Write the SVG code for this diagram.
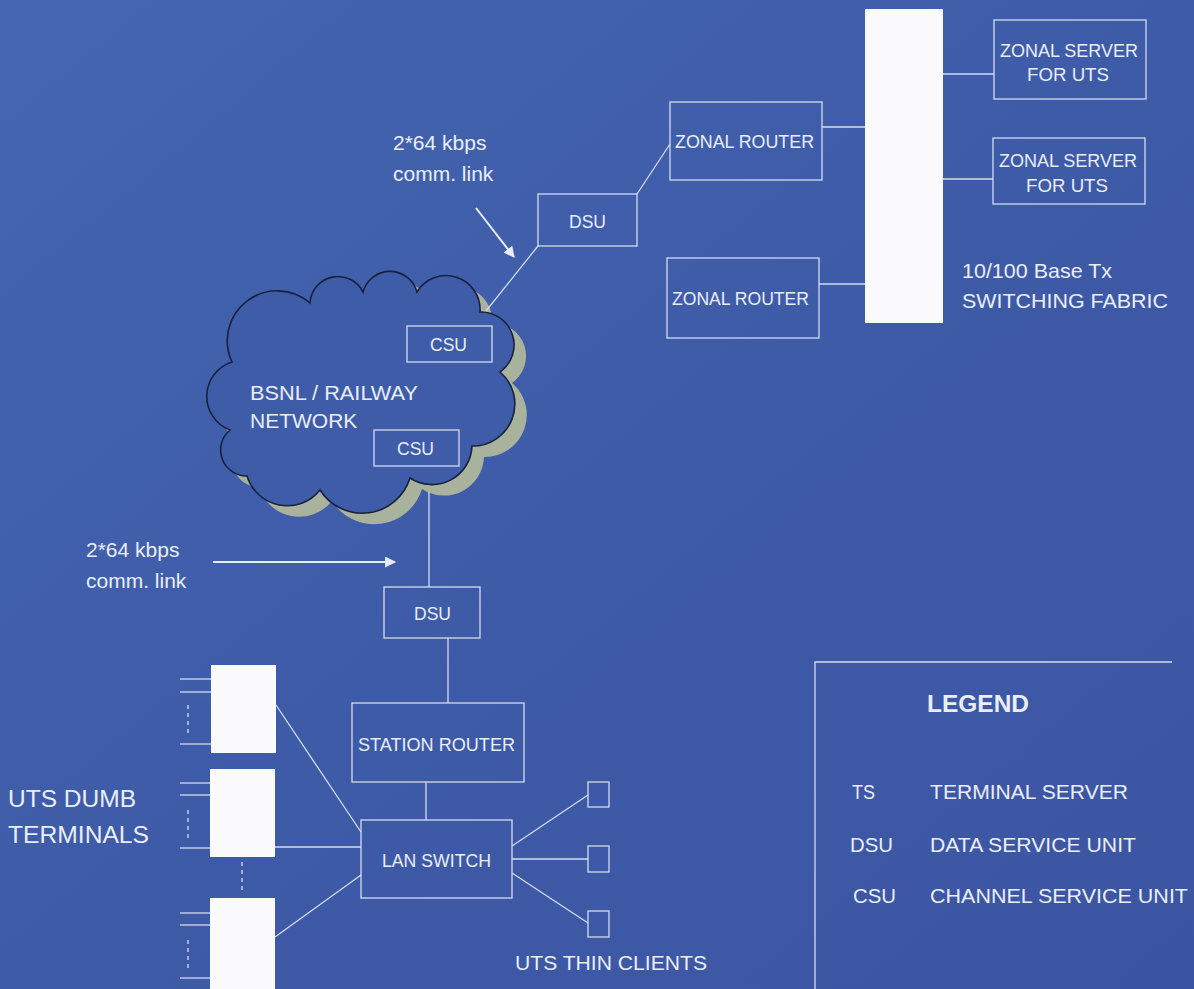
<svg xmlns="http://www.w3.org/2000/svg" width="1194" height="989" viewBox="0 0 1194 989">
<defs>
<linearGradient id="bgGrad" x1="0" y1="0" x2="1" y2="1">
<stop offset="0" stop-color="#4566b1"/>
<stop offset="0.5" stop-color="#3e5ba8"/>
<stop offset="1" stop-color="#3c55a2"/>
</linearGradient>
<marker id="arr" viewBox="0 0 10 10" refX="9" refY="5" markerWidth="12" markerHeight="11" orient="auto" markerUnits="userSpaceOnUse">
<path d="M0,0 L10,5 L0,10 Z" fill="#e6ecf8"/>
</marker>
<style>
.ln{stroke:#d3dcf1;stroke-width:1.3;fill:none}
.box{stroke:#d3dcf1;stroke-width:1.3;fill:none}
.wbox{fill:#fbfbfd;stroke:none}
.dash{stroke:#d3dcf1;stroke-width:1.3;stroke-dasharray:4 4;fill:none}
.t{fill:#e9eef9;font-family:"Liberation Sans",Arial,sans-serif}
.s17{font-size:19px}
.s20{font-size:21px}
.lg{font-size:21px}
.arrow{stroke:#e6ecf8;stroke-width:2;fill:none}
</style>
</defs>
<rect width="1194" height="989" fill="url(#bgGrad)"/>

<!-- cloud -->
<g id="cloud">
<path transform="translate(12,11)" fill="#a9b29c" d="M232,362 A50,50 0 0 1 310,303 A28,28 0 0 1 363,292 A28,28 0 0 1 417,292 A34,34 0 0 1 480,312 A33,33 0 0 1 500,372 A42,42 0 0 1 472,446 A40,40 0 0 1 410,478 A50,50 0 0 1 320,490 A42,42 0 0 1 247,476 A26,26 0 0 1 230,430 A36,36 0 0 1 232,362 Z"/>
<path fill="#3f5ca8" stroke="#17213d" stroke-width="1.6" d="M232,362 A50,50 0 0 1 310,303 A28,28 0 0 1 363,292 A28,28 0 0 1 417,292 A34,34 0 0 1 480,312 A33,33 0 0 1 500,372 A42,42 0 0 1 472,446 A40,40 0 0 1 410,478 A50,50 0 0 1 320,490 A42,42 0 0 1 247,476 A26,26 0 0 1 230,430 A36,36 0 0 1 232,362 Z"/>
<text class="t s20" x="250" y="400" textLength="168" lengthAdjust="spacingAndGlyphs">BSNL / RAILWAY</text>
<text class="t s20" x="250" y="428">NETWORK</text>
</g>

<!-- connectors -->
<g id="connectors">
<line class="ln" x1="637" y1="194" x2="670" y2="144"/>
<line class="ln" x1="538" y1="246" x2="486" y2="311"/>
<line class="ln" x1="822" y1="127" x2="865" y2="127"/>
<line class="ln" x1="819" y1="284" x2="865" y2="284"/>
<line class="ln" x1="943" y1="74" x2="994" y2="74"/>
<line class="ln" x1="943" y1="179" x2="993" y2="179"/>
<line class="ln" x1="429" y1="492" x2="429" y2="587"/>
<line class="ln" x1="448" y1="638" x2="448" y2="703"/>
<line class="ln" x1="426" y1="782" x2="426" y2="820"/>
<line class="ln" x1="512" y1="846" x2="588" y2="795"/>
<line class="ln" x1="512" y1="859" x2="588" y2="859"/>
<line class="ln" x1="512" y1="873" x2="588" y2="923"/>
<line class="ln" x1="276" y1="705" x2="361" y2="832"/>
<line class="ln" x1="275" y1="847" x2="361" y2="847"/>
<line class="ln" x1="275" y1="937" x2="361" y2="875"/>
<!-- terminal input stubs -->
<line class="ln" x1="180" y1="679" x2="211" y2="679"/>
<line class="ln" x1="180" y1="692" x2="211" y2="692"/>
<line class="ln" x1="180" y1="744" x2="211" y2="744"/>
<line class="dash" x1="188" y1="705" x2="188" y2="733"/>
<line class="ln" x1="180" y1="783" x2="210" y2="783"/>
<line class="ln" x1="180" y1="795" x2="210" y2="795"/>
<line class="ln" x1="180" y1="848" x2="210" y2="848"/>
<line class="dash" x1="188" y1="810" x2="188" y2="838"/>
<line class="ln" x1="180" y1="913" x2="210" y2="913"/>
<line class="ln" x1="180" y1="925" x2="210" y2="925"/>
<line class="ln" x1="180" y1="978" x2="210" y2="978"/>
<line class="dash" x1="188" y1="940" x2="188" y2="968"/>
<line class="dash" x1="242" y1="862" x2="242" y2="894"/>
<!-- link arrows -->
<line class="arrow" x1="476" y1="208" x2="514" y2="257" marker-end="url(#arr)"/>
<line class="arrow" x1="213" y1="562" x2="395" y2="562" marker-end="url(#arr)"/>
</g>

<g id="label-link-top">
<text class="t s20" x="393" y="150">2*64 kbps</text>
<text class="t s20" x="393" y="181">comm. link</text>
</g>
<g id="label-link-left">
<text class="t s20" x="86" y="557">2*64 kbps</text>
<text class="t s20" x="86" y="588">comm. link</text>
</g>

<g id="switching-fabric">
<rect class="wbox" x="865" y="9" width="78" height="314"/>
<text class="t s20" x="962" y="278" textLength="150" lengthAdjust="spacingAndGlyphs">10/100 Base Tx</text>
<text class="t s20" x="962" y="308" textLength="206" lengthAdjust="spacingAndGlyphs">SWITCHING FABRIC</text>
</g>

<g id="zonal-server-1">
<rect class="box" x="994" y="20" width="152" height="79"/>
<text class="t s17" x="1000" y="57" textLength="138" lengthAdjust="spacingAndGlyphs">ZONAL SERVER</text>
<text class="t s17" x="1027" y="81" textLength="82" lengthAdjust="spacingAndGlyphs">FOR  UTS</text>
</g>
<g id="zonal-server-2">
<rect class="box" x="993" y="138" width="152" height="66"/>
<text class="t s17" x="999" y="167" textLength="138" lengthAdjust="spacingAndGlyphs">ZONAL SERVER</text>
<text class="t s17" x="1026" y="192" textLength="82" lengthAdjust="spacingAndGlyphs">FOR  UTS</text>
</g>

<g id="zonal-router-1">
<rect class="box" x="670" y="102" width="152" height="78"/>
<text class="t s17" x="675" y="148" textLength="139" lengthAdjust="spacingAndGlyphs">ZONAL ROUTER</text>
</g>
<g id="zonal-router-2">
<rect class="box" x="667" y="258" width="152" height="80"/>
<text class="t s17" x="672" y="305" textLength="137" lengthAdjust="spacingAndGlyphs">ZONAL ROUTER</text>
</g>

<g id="dsu-top">
<rect class="box" x="538" y="194" width="99" height="52"/>
<text class="t s17" x="569" y="228" textLength="37" lengthAdjust="spacingAndGlyphs">DSU</text>
</g>

<g id="csu-top">
<rect class="box" x="407" y="326" width="85" height="36"/>
<text class="t s17" x="430" y="351" textLength="37" lengthAdjust="spacingAndGlyphs">CSU</text>
</g>
<g id="csu-bottom">
<rect class="box" x="374" y="430" width="85" height="36"/>
<text class="t s17" x="397" y="455" textLength="37" lengthAdjust="spacingAndGlyphs">CSU</text>
</g>

<g id="dsu-bottom">
<rect class="box" x="384" y="587" width="96" height="51"/>
<text class="t s17" x="414" y="620" textLength="37" lengthAdjust="spacingAndGlyphs">DSU</text>
</g>

<g id="station-router">
<rect class="box" x="352" y="703" width="172" height="79"/>
<text class="t s17" x="358" y="751" textLength="157" lengthAdjust="spacingAndGlyphs">STATION ROUTER</text>
</g>

<g id="lan-switch">
<rect class="box" x="361" y="820" width="151" height="78"/>
<text class="t s17" x="382" y="867" textLength="109" lengthAdjust="spacingAndGlyphs">LAN SWITCH</text>
</g>

<g id="thin-clients">
<rect class="box" x="588" y="782" width="21" height="25"/>
<rect class="box" x="588" y="846" width="21" height="26"/>
<rect class="box" x="588" y="911" width="21" height="26"/>
<text class="t s20" x="515" y="970" textLength="192" lengthAdjust="spacingAndGlyphs">UTS THIN CLIENTS</text>
</g>

<g id="dumb-terminals">
<rect class="wbox" x="211" y="665" width="65" height="88"/>
<rect class="wbox" x="210" y="769" width="65" height="88"/>
<rect class="wbox" x="210" y="898" width="65" height="95"/>
<text class="t" style="font-size:24px" x="8" y="807" textLength="128" lengthAdjust="spacingAndGlyphs">UTS DUMB</text>
<text class="t" style="font-size:24px" x="8" y="843" textLength="141" lengthAdjust="spacingAndGlyphs">TERMINALS</text>
</g>

<g id="legend">
<path class="ln" d="M815,989 L815,662 L1172,662"/>
<text class="t" style="font-size:24px;font-weight:bold" x="927" y="712" textLength="102" lengthAdjust="spacingAndGlyphs">LEGEND</text>
<text class="t lg" x="852" y="799" textLength="23" lengthAdjust="spacingAndGlyphs">TS</text>
<text class="t lg" x="930" y="799" textLength="198" lengthAdjust="spacingAndGlyphs">TERMINAL SERVER</text>
<text class="t lg" x="850" y="852" textLength="43" lengthAdjust="spacingAndGlyphs">DSU</text>
<text class="t lg" x="930" y="852" textLength="206" lengthAdjust="spacingAndGlyphs">DATA SERVICE UNIT</text>
<text class="t lg" x="853" y="903" textLength="43" lengthAdjust="spacingAndGlyphs">CSU</text>
<text class="t lg" x="930" y="903" textLength="258" lengthAdjust="spacingAndGlyphs">CHANNEL SERVICE UNIT</text>
</g>
</svg>
